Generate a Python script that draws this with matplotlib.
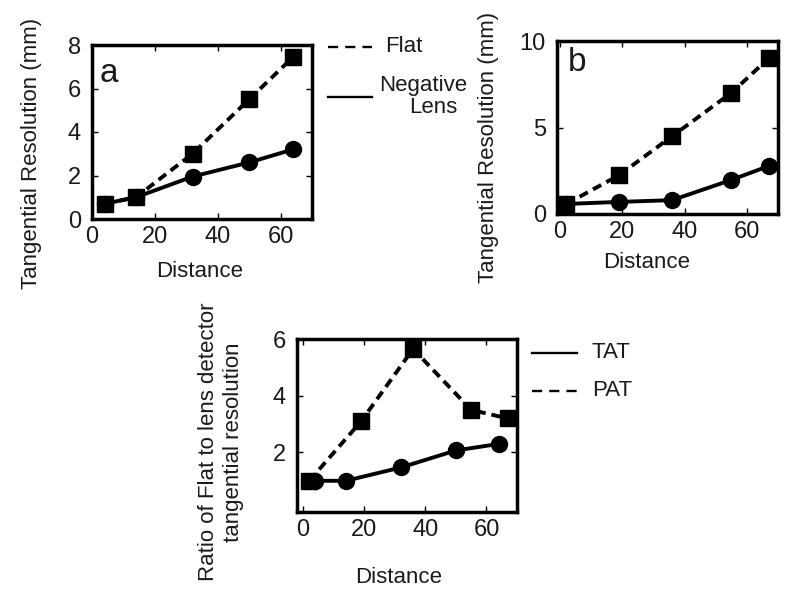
import matplotlib
matplotlib.use("Agg")
import matplotlib.pyplot as plt
from matplotlib.lines import Line2D

plt.rcParams['font.family'] = ['Liberation Sans', 'DejaVu Sans']

# ---------------- data ----------------
dist_a = [4, 14, 32, 50, 64]
flat_a = [0.7, 1.0, 3.0, 5.5, 7.45]
lens_a = [0.7, 1.0, 1.95, 2.6, 3.2]

dist_b = [2, 19, 36, 55, 67]
flat_b = [0.58, 2.25, 4.5, 7.0, 9.0]
lens_b = [0.58, 0.7, 0.8, 1.97, 2.77]

dist_tat = [4, 14, 32, 50, 64]
ratio_tat = [1.0, 1.0, 1.47, 2.07, 2.3]
dist_pat = [2, 19, 36, 55, 67]
ratio_pat = [1.0, 3.1, 5.65, 3.5, 3.2]

xticks = [0, 20, 40, 60]
yticks_a = [0, 2, 4, 6, 8]
yticks_b = [0, 5, 10]
yticks_c = [2, 4, 6]

W, H = 790, 600
fig = plt.figure(figsize=(W / 100, H / 100), dpi=100)


def px_axes(l, t, r, b):
    return fig.add_axes([l / W, 1 - b / H, (r - l) / W, (b - t) / H])


FS = 16
TFS = 17
LW = 2.8
DASH = (2.4, 1.5)
MS_SQ = 12
MS_CI = 11.5
TXT = '#1a1a1a'


def style(ax):
    for s in ax.spines.values():
        s.set_linewidth(2.5)
    ax.tick_params(direction='in', length=4, width=1, top=True, right=True,
                   labelsize=TFS, labelcolor=TXT)
    ax.tick_params(axis='x', pad=5)
    ax.tick_params(axis='y', pad=8)


# Panel a
ax_a = px_axes(92, 45, 312, 219)
ax_a.plot(dist_a, flat_a, color='black', lw=LW, ls='--', dashes=DASH,
          marker='s', ms=MS_SQ)
ax_a.plot(dist_a, lens_a, color='black', lw=LW, ls='-', marker='o', ms=MS_CI)
ax_a.set_xlim(0, 70)
ax_a.set_ylim(0, 8)
ax_a.set_xticks(xticks)
ax_a.set_yticks(yticks_a)
style(ax_a)
ax_a.set_xlabel('Distance', fontsize=FS, color=TXT)
ax_a.xaxis.set_label_coords(0.49, -0.299)
ax_a.xaxis.label.set_va('center')
ax_a.set_ylabel('Tangential Resolution (mm)', fontsize=FS, color=TXT)
ax_a.yaxis.set_label_coords(-0.277, 0.379)
ax_a.yaxis.label.set_va('center')
ax_a.text(0.035, 0.79, 'a', transform=ax_a.transAxes, fontsize=24,
          ha='left', va='baseline', color=TXT)

# Panel b
ax_b = px_axes(557, 41, 778, 214)
ax_b.plot(dist_b, flat_b, color='black', lw=LW, ls='--', dashes=DASH,
          marker='s', ms=MS_SQ)
ax_b.plot(dist_b, lens_b, color='black', lw=LW, ls='-', marker='o', ms=MS_CI)
ax_b.set_xlim(-1, 70)
ax_b.set_ylim(0, 10)
ax_b.set_xticks(xticks)
ax_b.set_yticks(yticks_b)
style(ax_b)
ax_b.set_xlabel('Distance', fontsize=FS, color=TXT)
ax_b.xaxis.set_label_coords(0.407, -0.283)
ax_b.xaxis.label.set_va('center')
ax_b.set_ylabel('Tangential Resolution (mm)', fontsize=FS, color=TXT)
ax_b.yaxis.set_label_coords(-0.312, 0.387)
ax_b.yaxis.label.set_va('center')
ax_b.text(0.05, 0.825, 'b', transform=ax_b.transAxes, fontsize=24,
          ha='left', va='baseline', color=TXT)

# Panel c
ax_c = px_axes(297, 339, 517, 512)
ax_c.plot(dist_pat, ratio_pat, color='black', lw=LW, ls='--', dashes=DASH,
          marker='s', ms=MS_SQ)
ax_c.plot(dist_tat, ratio_tat, color='black', lw=LW, ls='-', marker='o',
          ms=MS_CI)
ax_c.set_xlim(-2, 70)
ax_c.set_ylim(-0.1, 6.0)
ax_c.set_xticks(xticks)
ax_c.set_yticks(yticks_c)
style(ax_c)
ax_c.set_xlabel('Distance', fontsize=FS, color=TXT)
ax_c.xaxis.set_label_coords(0.464, -0.376)
ax_c.xaxis.label.set_va('center')
ax_c.set_ylabel('Ratio of Flat to lens detector\ntangential resolution',
                fontsize=FS, linespacing=1.2, color=TXT)
ax_c.yaxis.set_label_coords(-0.345, 0.405)
ax_c.yaxis.label.set_va('center')


# --------------- legends (figure pixel coords) ---------------
def leg_line(x0, x1, y, dashed):
    ln = Line2D([x0 / W, x1 / W], [1 - y / H, 1 - y / H], color='black',
                lw=1.7, transform=fig.transFigure)
    if dashed:
        ln.set_dashes((4.3, 3.0))
    fig.add_artist(ln)


def leg_text(x, y, s, ha='left'):
    fig.text(x / W, 1 - y / H, s, fontsize=FS, ha=ha, va='center', color=TXT)


leg_line(328, 372, 47, True)
leg_text(385, 46, 'Flat')
leg_line(328, 372, 97, False)
leg_text(423, 85, 'Negative', ha='center')
leg_text(433, 108, 'Lens', ha='center')

leg_line(532, 577, 353, False)
leg_text(592, 353, 'TAT')
leg_line(532, 577, 391, True)
leg_text(592, 391, 'PAT')

fig.savefig('out.png', dpi=100)
